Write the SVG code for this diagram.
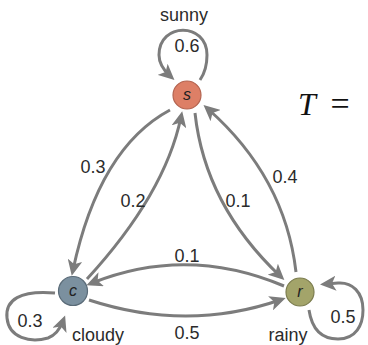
<svg xmlns="http://www.w3.org/2000/svg" width="368" height="345" viewBox="0 0 368 345">
<style>
.edge{fill:none;stroke:#7c7c7c;stroke-width:3;marker-end:url(#arr)}
.lbl{font-family:"Liberation Sans",Arial,sans-serif;font-size:18px;fill:#2b2b2b;text-anchor:middle}
.nl{font-family:"Liberation Sans",Arial,sans-serif;font-size:16px;font-style:italic;fill:#222;text-anchor:middle}
.node{stroke-width:1.2}
</style>
<defs>
<marker id="arr" markerUnits="userSpaceOnUse" markerWidth="17" markerHeight="15" refX="10" refY="7.5" orient="auto">
<path d="M0,0 L16,7.5 L0,15 L4,7.5 z" fill="#7c7c7c"/>
</marker>
</defs>
<rect width="368" height="345" fill="#fff"/>
<g id="connectors">
<path class="edge" d="M200 80 Q207 70 207 55 C207 22 159 22 159 55 Q159 66 170 76"/>
<path class="edge" d="M55 293 C20 290 5 300 7 318 C9 338 30 343 48 338 C56 335 60 329 63 321"/>
<path class="edge" d="M309 310 C312 330 322 339 338 339 C356 339 363 325 363 310 C363 292 352 282 338 283 L326 284"/>
<path class="edge" d="M170 110 Q99 148 73 270"/>
<path class="edge" d="M87 279 Q165 194 181 117"/>
<path class="edge" d="M195 113 Q205 205 280 276"/>
<path class="edge" d="M296 272 Q285 177 208 109"/>
<path class="edge" d="M284 286 Q187 245 92 283"/>
<path class="edge" d="M89 300 Q187 332 280 300"/>
</g>
<g id="labels">
<text class="lbl" x="184" y="21">sunny</text>
<text class="lbl" x="187" y="52">0.6</text>
<text class="lbl" x="93" y="173">0.3</text>
<text class="lbl" x="133" y="207">0.2</text>
<text class="lbl" x="238" y="207">0.1</text>
<text class="lbl" x="285" y="183">0.4</text>
<text class="lbl" x="187" y="262">0.1</text>
<text class="lbl" x="187" y="339">0.5</text>
<text class="lbl" x="30" y="327">0.3</text>
<text class="lbl" x="98" y="341">cloudy</text>
<text class="lbl" x="288" y="341">rainy</text>
<text class="lbl" x="343" y="323">0.5</text>
</g>
<g id="node-s">
<circle class="node" cx="187" cy="95" r="14" fill="#dd7f66" stroke="#b36450"/>
<text class="nl" x="187" y="100">s</text>
</g>
<g id="node-c">
<circle class="node" cx="73" cy="291" r="14.5" fill="#7b909f" stroke="#5a6b78"/>
<text class="nl" x="73" y="296">c</text>
</g>
<g id="node-r">
<circle class="node" cx="300" cy="292" r="14" fill="#a3a46a" stroke="#7c7d4f"/>
<text class="nl" x="300" y="297">r</text>
</g>
<g id="formula">
<text x="307" y="115" font-family="'Liberation Serif',serif" font-style="italic" font-size="32" fill="#111" text-anchor="middle">T</text>
<text x="340" y="115" font-family="'Liberation Serif',serif" font-size="34" fill="#111" text-anchor="middle">=</text>
</g>
</svg>
